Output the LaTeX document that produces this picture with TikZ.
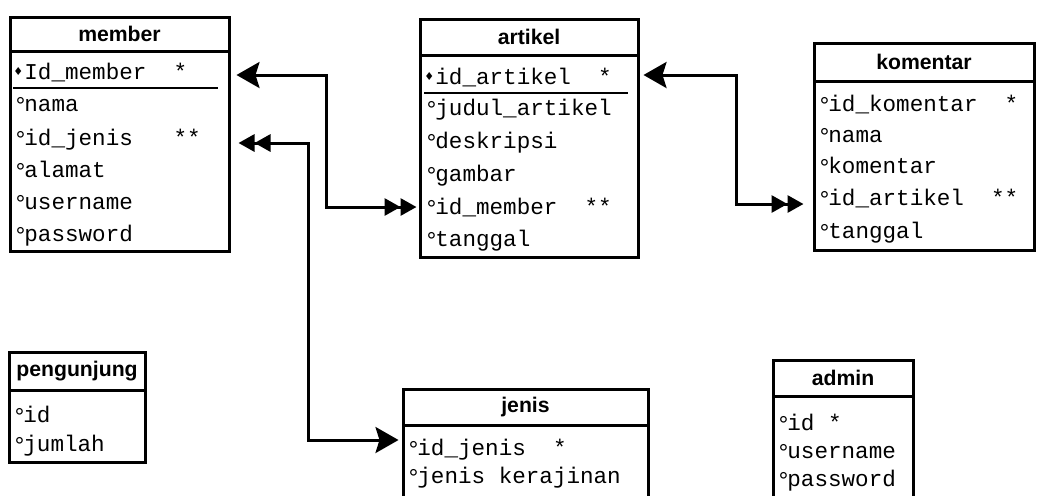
\documentclass[tikz,border=0pt]{standalone}
\usepackage{fontspec}
\setmonofont{Liberation Mono}
\newfontfamily\headfont{Liberation Sans}
\newfontfamily\symfont{DejaVu Sans}
\usetikzlibrary{
    arrows.meta,
    calc
}
\newcommand{\att}{\makebox[5.5pt][l]{\raisebox{-1pt}{\fontsize{12}{12}\selectfont °}}}
\newcommand{\pkey}{\makebox[5.5pt][l]{\raisebox{2pt}{\symfont\fontsize{5.5}{5.5}\selectfont ♦}}}
\tikzset {
    entity head/.style = {
        draw, line width = 1.5pt, inner sep = 0pt,
        font = \headfont\bfseries\fontsize{10.6}{12}\selectfont
    },
    entity body/.style = {draw, line width = 1.5pt, inner sep = 0pt},
    attr/.style = {
        anchor = west, inner sep = 0pt,
        text height = 7pt, text depth = 2.5pt,
        font = \ttfamily\fontsize{11.3}{13}\selectfont
    },
    key line/.style = {line width = 0.8pt},
    one many/.style = {
        line width = 1.5pt,
        arrows = {Stealth[length = 11.5pt, width = 13pt, inset = 2pt]-{Triangle[length = 8pt, width = 8.5pt] Triangle[length = 8pt, width = 8.5pt]}}
    }
}
\begin{document}
\begin{tikzpicture}[x = 0.5pt, y = -0.5pt]
    \useasboundingbox (0, 0) rectangle (1037, 495);
    % member
    \node (member) [entity head, minimum width = 109.5pt, minimum height = 17pt] at (119.5, 34) {member};
    \node (member-body) [entity body, minimum width = 109.5pt, minimum height = 100pt] at (119.5, 151) {};
    \node (member-id) [attr] at (13, 75) {\pkey Id\_member~~*};
    \node (member-nama) [attr] at (13, 107) {\att nama};
    \node (member-jenis) [attr] at (13, 141) {\att id\_jenis~~~**};
    \node (member-alamat) [attr] at (13, 173) {\att alamat};
    \node (member-user) [attr] at (13, 205) {\att username};
    \node (member-pass) [attr] at (13, 237) {\att password};
    \draw [key line] (member-id.south west) ++(0, 3) -- ++(205, 0);
    % artikel
    \node (artikel) [entity head, minimum width = 109pt, minimum height = 18pt] at (529, 37) {artikel};
    \node (artikel-body) [entity body, minimum width = 109pt, minimum height = 101pt] at (529, 156) {};
    \node (artikel-id) [attr] at (424, 80) {\pkey id\_artikel~~*};
    \node (artikel-judul) [attr] at (424, 111) {\att judul\_artikel};
    \node (artikel-desk) [attr] at (424, 144) {\att deskripsi};
    \node (artikel-gambar) [attr] at (424, 177) {\att gambar};
    \node (artikel-member) [attr] at (424, 210) {\att id\_member~~**};
    \node (artikel-tgl) [attr] at (424, 242) {\att tanggal};
    \draw [key line] (artikel-id.south west) ++(0, 3) -- ++(204, 0);
    % komentar
    \node (komentar) [entity head, minimum width = 110pt, minimum height = 19pt] at (924, 62) {komentar};
    \node (komentar-body) [entity body, minimum width = 110pt, minimum height = 84.5pt] at (924, 165.5) {};
    \node (komentar-id) [attr] at (817, 107) {\att id\_komentar~~*};
    \node (komentar-nama) [attr] at (817, 138) {\att nama};
    \node (komentar-isi) [attr] at (817, 169) {\att komentar};
    \node (komentar-artikel) [attr] at (817, 201) {\att id\_artikel~~**};
    \node (komentar-tgl) [attr] at (817, 234) {\att tanggal};
    % pengunjung
    \node (pengunjung) [entity head, minimum width = 68pt, minimum height = 19pt] at (77, 371) {pengunjung};
    \node (pengunjung-body) [entity body, minimum width = 68pt, minimum height = 36pt] at (77, 426) {};
    \node (pengunjung-id) [attr] at (12, 418) {\att id};
    \node (pengunjung-jumlah) [attr] at (12, 447) {\att jumlah};
    % jenis
    \node (jenis) [entity head, minimum width = 122.5pt, minimum height = 18pt] at (525.5, 407) {jenis};
    \node (jenis-body) [entity body, minimum width = 122.5pt, minimum height = 42.5pt] at (525.5, 467.5) {};
    \node (jenis-id) [attr] at (406, 451) {\att id\_jenis~~*};
    \node (jenis-nama) [attr] at (406, 479) {\att jenis kerajinan};
    % admin
    \node (admin) [entity head, minimum width = 70pt, minimum height = 18pt] at (843, 378) {admin};
    \node (admin-body) [entity body, minimum width = 70pt, minimum height = 57pt] at (843, 453) {};
    \node (admin-id) [attr] at (776, 426) {\att id~*};
    \node (admin-user) [attr] at (776, 454) {\att username};
    \node (admin-pass) [attr] at (776, 482) {\att password};
    % relations
    \coordinate (member-id-tip) at ($(member-body.east |- member-id) + (6, 0)$);
    \coordinate (artikel-member-tip) at ($(artikel-body.west |- artikel-member) + (-2, -3)$);
    \draw [one many] (member-id-tip) -| ($(member-id-tip)!.5!(artikel-member-tip)$) |- (artikel-member-tip);
    \coordinate (artikel-id-tip) at ($(artikel-body.east |- artikel-id) + (4, -5)$);
    \coordinate (komentar-artikel-tip) at ($(komentar-body.west |- komentar-artikel) + (-9, 3)$);
    \draw [one many] (artikel-id-tip) -| ($(artikel-id-tip)!.58!(komentar-artikel-tip)$) |- (komentar-artikel-tip);
    \coordinate (jenis-id-tip) at ($(jenis-body.west |- jenis-id) + (-3, -11)$);
    \coordinate (member-jenis-tip) at ($(member-body.east |- member-jenis) + (8, 2)$);
    \draw [one many] (jenis-id-tip) -| ($(jenis-id-tip)!.56!(member-jenis-tip)$) |- (member-jenis-tip);
\end{tikzpicture}
\end{document}
